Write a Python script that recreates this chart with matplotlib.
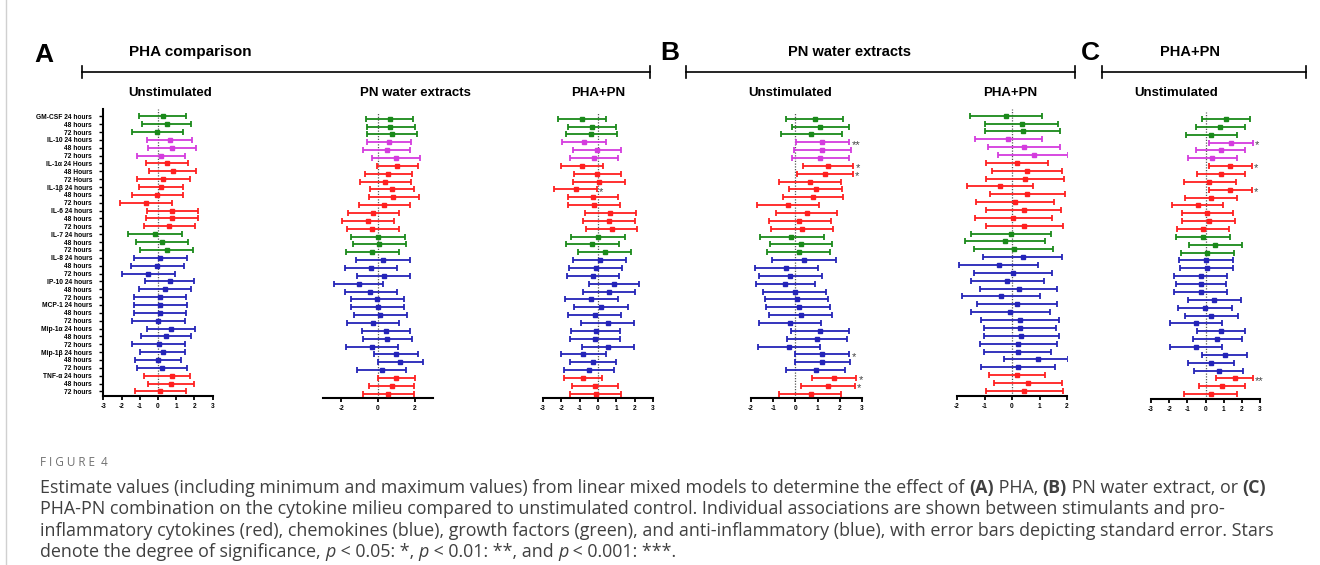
import matplotlib.pyplot as plt
from matplotlib.lines import Line2D
import numpy as np

plt.rcParams['font.family'] = ['Liberation Sans', 'DejaVu Sans']

W, H = 1320, 565

# cytokines, 3 time points each (24, 48, 72 hours)
cytokines = ["GM-CSF", "IL-10", "IL-1α", "IL-1β", "IL-6", "IL-7",
             "IL-8", "IP-10", "MCP-1", "Mip-1α", "Mip-1β", "TNF-α"]
cyto_colors = ["#1a8a1a", "#d43cde", "#ff2020", "#ff2020", "#ff2020", "#1a8a1a",
               "#2424b8", "#2424b8", "#2424b8", "#2424b8", "#2424b8", "#ff2020"]

# A: PHA comparison - Unstimulated
a1_est = [0.27, 0.48, -0.04, 0.64, 0.79, 0.16, 0.48, 0.80, 0.29, 0.15, -0.04, -0.68,
          0.79, 0.79, 0.60, -0.16, 0.22, 0.48, 0.13, -0.04, -0.55, 0.64, 0.38, 0.09,
          0.13, 0.11, 0.02, 0.69, 0.44, 0.04, 0.26, 0.00, 0.22, 0.79, 0.73, 0.09]
a1_lo = [-1.04, -0.86, -1.43, -0.60, -0.55, -1.17, -0.66, -0.49, -1.15, -1.06, -1.41, -2.10,
         -0.62, -0.64, -0.79, -1.65, -1.22, -0.97, -1.32, -1.48, -1.97, -0.71, -1.04, -1.33,
         -1.32, -1.32, -1.43, -0.62, -0.91, -1.41, -1.01, -1.26, -1.17, -0.75, -0.57, -1.28]
a1_hi = [1.55, 1.83, 1.37, 1.86, 2.08, 1.50, 1.65, 2.07, 1.74, 1.37, 1.37, 0.79,
         2.18, 2.19, 2.03, 1.32, 1.66, 1.94, 1.57, 1.43, 0.91, 1.97, 1.81, 1.55,
         1.61, 1.55, 1.46, 2.03, 1.83, 1.46, 1.48, 1.26, 1.57, 1.77, 1.99, 1.55]

# A: PN water extracts
a2_est = [0.63, 0.67, 0.77, 0.61, 0.47, 0.99, 1.03, 0.56, 0.40, 0.77, 0.83, 0.34,
          -0.25, -0.56, -0.31, 0.00, 0.07, -0.32, 0.27, -0.38, 0.31, -1.05, -0.41, -0.04,
          0.00, 0.13, -0.25, 0.43, 0.50, -0.34, 0.99, 1.21, 0.20, 0.99, 0.76, 0.56]
a2_lo = [-0.63, -0.61, -0.59, -0.58, -0.81, -0.32, -0.07, -0.70, -0.99, -0.41, -0.50, -1.06,
         -1.62, -1.95, -1.69, -1.46, -1.37, -1.75, -1.19, -1.80, -1.12, -2.38, -1.80, -1.48,
         -1.46, -1.33, -1.68, -0.88, -0.83, -1.75, -0.23, 0.00, -1.14, 0.00, -0.47, -0.83]
a2_hi = [1.93, 2.02, 2.14, 1.82, 1.77, 2.29, 2.16, 1.84, 1.82, 1.98, 2.22, 1.77,
         1.15, 0.85, 1.12, 1.46, 1.51, 1.14, 1.73, 1.06, 1.75, 0.29, 1.03, 1.41,
         1.44, 1.57, 1.17, 1.75, 1.86, 1.08, 2.20, 2.47, 1.55, 2.00, 1.96, 1.96]

# A: PHA+PN
a3_est = [-0.87, -0.35, -0.40, -0.76, -0.04, -0.22, -0.87, -0.04, 0.05, -1.22, -0.29, -0.24,
          0.67, 0.60, 0.75, -0.02, -0.33, 0.36, 0.11, -0.13, -0.27, 0.89, 0.62, -0.36,
          0.16, -0.18, 0.53, -0.13, -0.18, 0.55, -0.80, -0.27, -0.49, -0.80, -0.18, -0.13]
a3_lo = [-2.16, -1.65, -1.76, -1.96, -1.35, -1.53, -2.00, -1.31, -1.35, -2.42, -1.65, -1.65,
         -0.73, -0.80, -0.65, -1.49, -1.76, -1.09, -1.35, -1.56, -1.71, -0.47, -0.80, -1.82,
         -1.31, -1.62, -0.91, -1.47, -1.55, -0.87, -2.04, -1.55, -1.85, -1.84, -1.42, -1.53]
a3_hi = [0.42, 0.98, 1.02, 0.45, 1.25, 1.09, 0.25, 1.24, 1.49, -0.04, 1.07, 1.20,
         2.07, 2.02, 2.15, 1.45, 1.13, 1.80, 1.55, 1.33, 1.15, 2.22, 2.04, 1.09,
         1.62, 1.25, 1.96, 1.20, 1.20, 1.98, 0.42, 0.98, 0.87, 0.20, 1.07, 1.27]
a3_stars = {9: "*"}

# B: PN water extracts - Unstimulated
b1_est = [0.87, 1.13, 0.71, 1.22, 1.22, 1.13, 1.49, 1.32, 0.66, 0.92, 0.80, -0.33,
          0.51, 0.18, 0.29, -0.18, 0.26, 0.14, 0.38, -0.41, -0.23, -0.45, -0.03, 0.06,
          0.14, 0.23, -0.24, 1.11, 0.98, -0.30, 1.22, 1.22, 0.92, 1.76, 1.46, 0.69]
b1_lo = [-0.41, -0.17, -0.66, 0.02, -0.08, -0.17, 0.36, 0.06, -0.74, -0.27, -0.56, -1.74,
         -0.86, -1.20, -1.10, -1.61, -1.16, -1.29, -1.07, -1.82, -1.64, -1.76, -1.46, -1.35,
         -1.31, -1.20, -1.64, -0.20, -0.39, -1.70, 0.00, 0.00, -0.44, 0.77, 0.23, -0.72]
b1_hi = [2.15, 2.43, 2.10, 2.42, 2.49, 2.42, 2.61, 2.58, 2.07, 2.10, 2.16, 1.08,
         1.89, 1.59, 1.68, 1.28, 1.67, 1.56, 1.82, 1.04, 1.19, 0.89, 1.40, 1.49,
         1.58, 1.67, 1.17, 2.40, 2.33, 1.10, 2.42, 2.45, 2.25, 2.75, 2.67, 2.07]
b1_stars = {3: "**", 6: "*", 7: "*", 30: "*", 33: "*", 34: "*"}

# B: PHA+PN
b2_est = [-0.23, 0.35, 0.40, -0.15, 0.44, 0.79, 0.17, 0.55, 0.47, -0.42, 0.56, 0.11,
          0.42, 0.05, 0.45, -0.04, -0.25, 0.06, 0.39, -0.47, 0.05, -0.17, 0.24, -0.40,
          0.17, -0.07, 0.28, 0.29, 0.34, 0.23, 0.21, 0.95, 0.21, 0.18, 0.58, 0.45]
b2_lo = [-1.52, -0.97, -0.97, -1.36, -0.87, -0.51, -0.95, -0.74, -0.93, -1.62, -0.81, -1.30,
         -0.95, -1.36, -0.96, -1.48, -1.70, -1.38, -1.05, -1.92, -1.38, -1.49, -1.16, -1.82,
         -1.28, -1.50, -1.14, -1.03, -1.02, -1.18, -1.03, -0.30, -1.14, -0.82, -0.65, -0.96]
b2_hi = [1.09, 1.66, 1.76, 1.08, 1.73, 2.04, 1.30, 1.81, 1.88, 0.76, 1.92, 1.52,
         1.79, 1.44, 1.85, 1.42, 1.19, 1.49, 1.82, 0.96, 1.47, 1.15, 1.65, 1.03,
         1.62, 1.37, 1.70, 1.61, 1.70, 1.64, 1.43, 2.04, 1.58, 1.19, 1.81, 1.85]

# C: PHA+PN - Unstimulated
c1_est = [1.14, 0.81, 0.33, 1.39, 0.83, 0.35, 1.36, 0.83, 0.22, 1.36, 0.28, -0.44,
          0.09, 0.17, -0.15, -0.15, 0.55, 0.11, 0.02, 0.07, -0.26, -0.26, -0.26, 0.48,
          -0.02, 0.31, -0.51, 0.86, 0.66, -0.51, 1.06, 0.29, 0.73, 1.61, 0.92, 0.28]
c1_lo = [-0.20, -0.53, -1.06, 0.20, -0.53, -0.94, 0.22, -0.48, -1.21, 0.20, -1.14, -1.87,
         -1.30, -1.27, -1.56, -1.61, -0.90, -1.36, -1.47, -1.38, -1.72, -1.65, -1.71, -0.97,
         -1.52, -1.14, -1.94, -0.48, -0.70, -1.94, -0.18, -0.95, -0.64, 0.59, -0.35, -1.19]
c1_hi = [2.46, 2.15, 1.76, 2.61, 2.17, 1.71, 2.55, 2.15, 1.67, 2.57, 1.71, 0.99,
         1.52, 1.60, 1.28, 1.36, 2.02, 1.58, 1.50, 1.54, 1.21, 1.14, 1.21, 1.96,
         1.47, 1.78, 0.92, 2.20, 2.02, 0.92, 2.31, 1.58, 2.09, 2.64, 2.20, 1.72]
c1_stars = {3: "*", 6: "*", 9: "*", 33: "**"}

row_labels = []
for name in cytokines:
    unit = "Hours" if name == "IL-1α" else "hours"
    row_labels += [f"{name} 24 {unit}", f"48 {unit}", f"72 {unit}"]
row_colors = [c for c in cyto_colors for _ in range(3)]
rows = np.arange(len(row_labels))

fig = plt.figure(figsize=(W / 100, H / 100), dpi=100)
fig.patch.set_facecolor("white")


def draw_panel(x0, x1, row0, axis_y, xlim, xticks, est, lo, hi, stars=None, labels=False):
    step = 7.86
    top = row0 - 7.0
    ax = fig.add_axes([x0 / W, 1 - axis_y / H, (x1 - x0) / W, (axis_y - top) / H])
    last = row0 + 35 * step
    ax.set_ylim(35 + (axis_y - last) / step, -7.0 / step)
    ax.set_xlim(*xlim)
    ax.axvline(0, color="#555555", lw=0.9, ls=(0, (1, 1.2)), zorder=1)
    for i in rows:
        ax.errorbar(est[i], i, xerr=[[est[i] - lo[i]], [hi[i] - est[i]]],
                    fmt="s", ms=3, color=row_colors[i], ecolor=row_colors[i],
                    elinewidth=1.3, capsize=2.2, capthick=1.3, zorder=3)
    if stars:
        for i, s in stars.items():
            ax.text(hi[i] + 0.1, i + 0.3, s, fontsize=8, color="#444444",
                    ha="left", va="center")
    for side in ["top", "right"]:
        ax.spines[side].set_visible(False)
    ax.spines["bottom"].set_linewidth(1.5)
    ax.set_xticks(xticks)
    ax.set_xticklabels([str(t) for t in xticks], fontsize=4.7, fontweight="bold")
    ax.tick_params(axis="x", length=3, width=1.3, pad=2)
    if labels:
        ax.spines["left"].set_linewidth(1.5)
        ax.set_yticks(rows)
        ax.set_yticklabels(row_labels, fontsize=4.8, fontweight="bold")
        ax.tick_params(axis="y", length=3, width=1.0, pad=5)
    else:
        ax.spines["left"].set_visible(False)
        ax.set_yticks([])
    ax.patch.set_alpha(0)
    return ax


draw_panel(103.3, 212.7, 116.3, 396, (-3, 3), range(-3, 4), a1_est, a1_lo, a1_hi, labels=True)
draw_panel(323, 433, 118.7, 398, (-3, 3), [-2, 0, 2], a2_est, a2_lo, a2_hi)
draw_panel(543, 653, 118.7, 398, (-3, 3), range(-3, 4), a3_est, a3_lo, a3_hi, a3_stars)
draw_panel(751, 862, 118.7, 398, (-2, 3), range(-2, 4), b1_est, b1_lo, b1_hi, b1_stars)
draw_panel(957, 1067, 115.7, 396, (-2, 2), range(-2, 3), b2_est, b2_lo, b2_hi)
draw_panel(1151, 1260, 119, 399, (-3, 3), range(-3, 4), c1_est, c1_lo, c1_hi, c1_stars)


def ftext(x, y, s, **kw):
    return fig.text(x / W, 1 - y / H, s, **kw)


def bracket(x0, x1, y):
    fy = 1 - y / H
    fig.add_artist(Line2D([x0 / W, x1 / W], [fy, fy], color="black", lw=1.2))
    for x in (x0, x1):
        fig.add_artist(Line2D([x / W, x / W], [1 - (y - 6) / H, 1 - (y + 6) / H],
                              color="black", lw=1.2))


# panel headers
ftext(44, 55, "A", fontsize=19, fontweight="bold", ha="center", va="center")
ftext(670, 53, "B", fontsize=19, fontweight="bold", ha="center", va="center")
ftext(1090, 53, "C", fontsize=19, fontweight="bold", ha="center", va="center")
ftext(190, 52, "PHA comparison", fontsize=11, fontweight="bold", ha="center", va="center")
ftext(850, 52, "PN water extracts", fontsize=10.5, fontweight="bold", ha="center", va="center")
ftext(1190, 52, "PHA+PN", fontsize=10.5, fontweight="bold", ha="center", va="center")
bracket(82, 650, 72)
bracket(686, 1075, 72)
bracket(1102, 1306, 72)

subtitles = [(170, "Unstimulated"), (415, "PN water extracts"), (598, "PHA+PN"),
             (790, "Unstimulated"), (1010, "PHA+PN"), (1176, "Unstimulated")]
for x, s in subtitles:
    ftext(x, 93, s, fontsize=9.5, fontweight="bold", ha="center", va="center")

# caption, drawn piece by piece so bold / italic parts sit inline
fig.add_artist(Line2D([6 / W, 6 / W], [0, 1], color="#d0d0d0", lw=1))
ftext(40, 463, "F I G U R E  4", fontsize=8.5, color="#707070",
      va="center", family="Open Sans")

renderer = fig.canvas.get_renderer()
cap_font = dict(fontsize=12.9, color="#404040", va="center", family="Open Sans")


def seg_width(s, **kw):
    a = ftext(0, 0, "x" + s + "x", **kw)
    b = ftext(0, 0, "xx", **kw)
    w = a.get_window_extent(renderer).width - b.get_window_extent(renderer).width
    a.remove()
    b.remove()
    return w


def rich_line(x, y, segs):
    for s, style in segs:
        kw = dict(cap_font)
        if style == "b":
            kw["fontweight"] = "bold"
        elif style == "i":
            kw["fontstyle"] = "italic"
        ftext(x, y, s, **kw)
        x += seg_width(s, **kw)


cap_lines = [
    [("Estimate values (including minimum and maximum values) from linear mixed models to determine the effect of ", ""),
     ("(A)", "b"), (" PHA, ", ""), ("(B)", "b"), (" PN water extract, or ", ""), ("(C)", "b")],
    [("PHA-PN combination on the cytokine milieu compared to unstimulated control. Individual associations are shown between stimulants and pro-", "")],
    [("inflammatory cytokines (red), chemokines (blue), growth factors (green), and anti-inflammatory (blue), with error bars depicting standard error. Stars", "")],
    [("denote the degree of significance, ", ""), ("p", "i"), (" < 0.05: *, ", ""), ("p", "i"),
     (" < 0.01: **, and ", ""), ("p", "i"), (" < 0.001: ***.", "")],
]
for k, segs in enumerate(cap_lines):
    rich_line(40, 488 + 21.3 * k, segs)

fig.savefig("out.png", dpi=100)
